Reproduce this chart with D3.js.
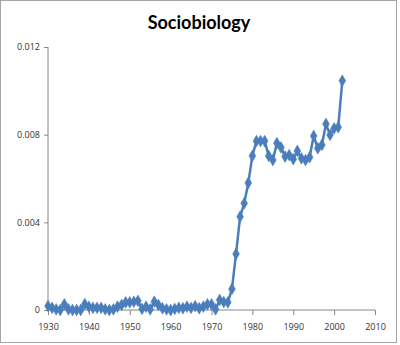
<!DOCTYPE html>
<html><head><meta charset="utf-8">
<script src="https://cdn.jsdelivr.net/npm/d3@7"></script>
<style>body{margin:0;background:#fff}svg{display:block}</style>
</head><body>
<script>
const title = "Sociobiology";
const years = d3.range(1930, 2003);
const values = [
 0.00018,0.00010,0.00003,0.00000,0.00026,0.00003,0.00000,0.00000,0.00000,0.00027,
 0.00015,0.00010,0.00010,0.00010,0.00003,0.00000,0.00003,0.00015,0.00023,0.00035,
 0.00035,0.00038,0.00042,0.00005,0.00015,0.00003,0.00038,0.00023,0.00008,0.00003,
 0.00000,0.00005,0.00010,0.00008,0.00015,0.00010,0.00018,0.00008,0.00015,0.00026,
 0.00026,0.00003,0.00046,0.00036,0.00035,0.00096,0.00256,0.00426,0.00487,0.00580,
 0.00703,0.00771,0.00771,0.00771,0.00703,0.00684,0.00761,0.00742,0.00700,0.00707,
 0.00688,0.00726,0.00692,0.00684,0.00697,0.00794,0.00738,0.00753,0.00849,0.00799,
 0.00829,0.00834,0.01046
];
const xTicks = [1930,1940,1950,1960,1970,1980,1990,2000,2010];
const yTicks = [0,0.004,0.008,0.012];
const yTickLabels = ["0","0.004","0.008","0.012"];

const W = 400, H = 345;
const svg = d3.select("body").append("svg").attr("width", W).attr("height", H);
svg.append("rect").attr("x",0.5).attr("y",0.5).attr("width",396).attr("height",342)
  .attr("fill","#fff").attr("stroke","#a6a6a6");

const x = d3.scaleLinear().domain([1930,2010]).range([48,375]);
const y = d3.scaleLinear().domain([0,0.012]).range([310,47]);

svg.append("text").attr("x",199).attr("y",29).attr("text-anchor","middle")
  .attr("font-family","Lato, 'Open Sans', sans-serif").attr("font-weight","bold")
  .attr("font-size",18).attr("fill","#000").text(title);

const ax = "#868686";
const yAxis = svg.append("g").attr("transform","translate(48,0)")
  .call(d3.axisLeft(y).tickValues(yTicks).tickFormat((d,i)=>yTickLabels[i]).tickSize(4).tickPadding(4));
const xAxis = svg.append("g").attr("transform","translate(0,310)")
  .call(d3.axisBottom(x).tickValues(xTicks).tickFormat(d3.format("d")).tickSize(5).tickPadding(9));
[yAxis,xAxis].forEach(g=>{
  g.selectAll("path,line").attr("stroke",ax);
  g.select(".domain").attr("d", g===yAxis ? "M0,47V310" : "M48,0H375");
  g.selectAll("text").attr("font-family","'Open Sans', Lato, sans-serif").attr("font-size",9).attr("fill","#333");
});

const data = years.map((yr,i)=>[yr, values[i]]);
svg.append("path").datum(data)
  .attr("fill","none").attr("stroke","#4a7ebb").attr("stroke-width",2.5).attr("stroke-linejoin","round")
  .attr("d", d3.line().x(d=>x(d[0])).y(d=>y(d[1])));
svg.append("g").selectAll("path").data(data).join("path")
  .attr("transform", d=>`translate(${x(d[0])},${y(d[1])})`)
  .attr("d", d3.symbol(d3.symbolDiamond, 40))
  .attr("fill","#4a7ebb").attr("stroke","#4a7ebb").attr("stroke-width",0.5);
</script>
</body></html>
